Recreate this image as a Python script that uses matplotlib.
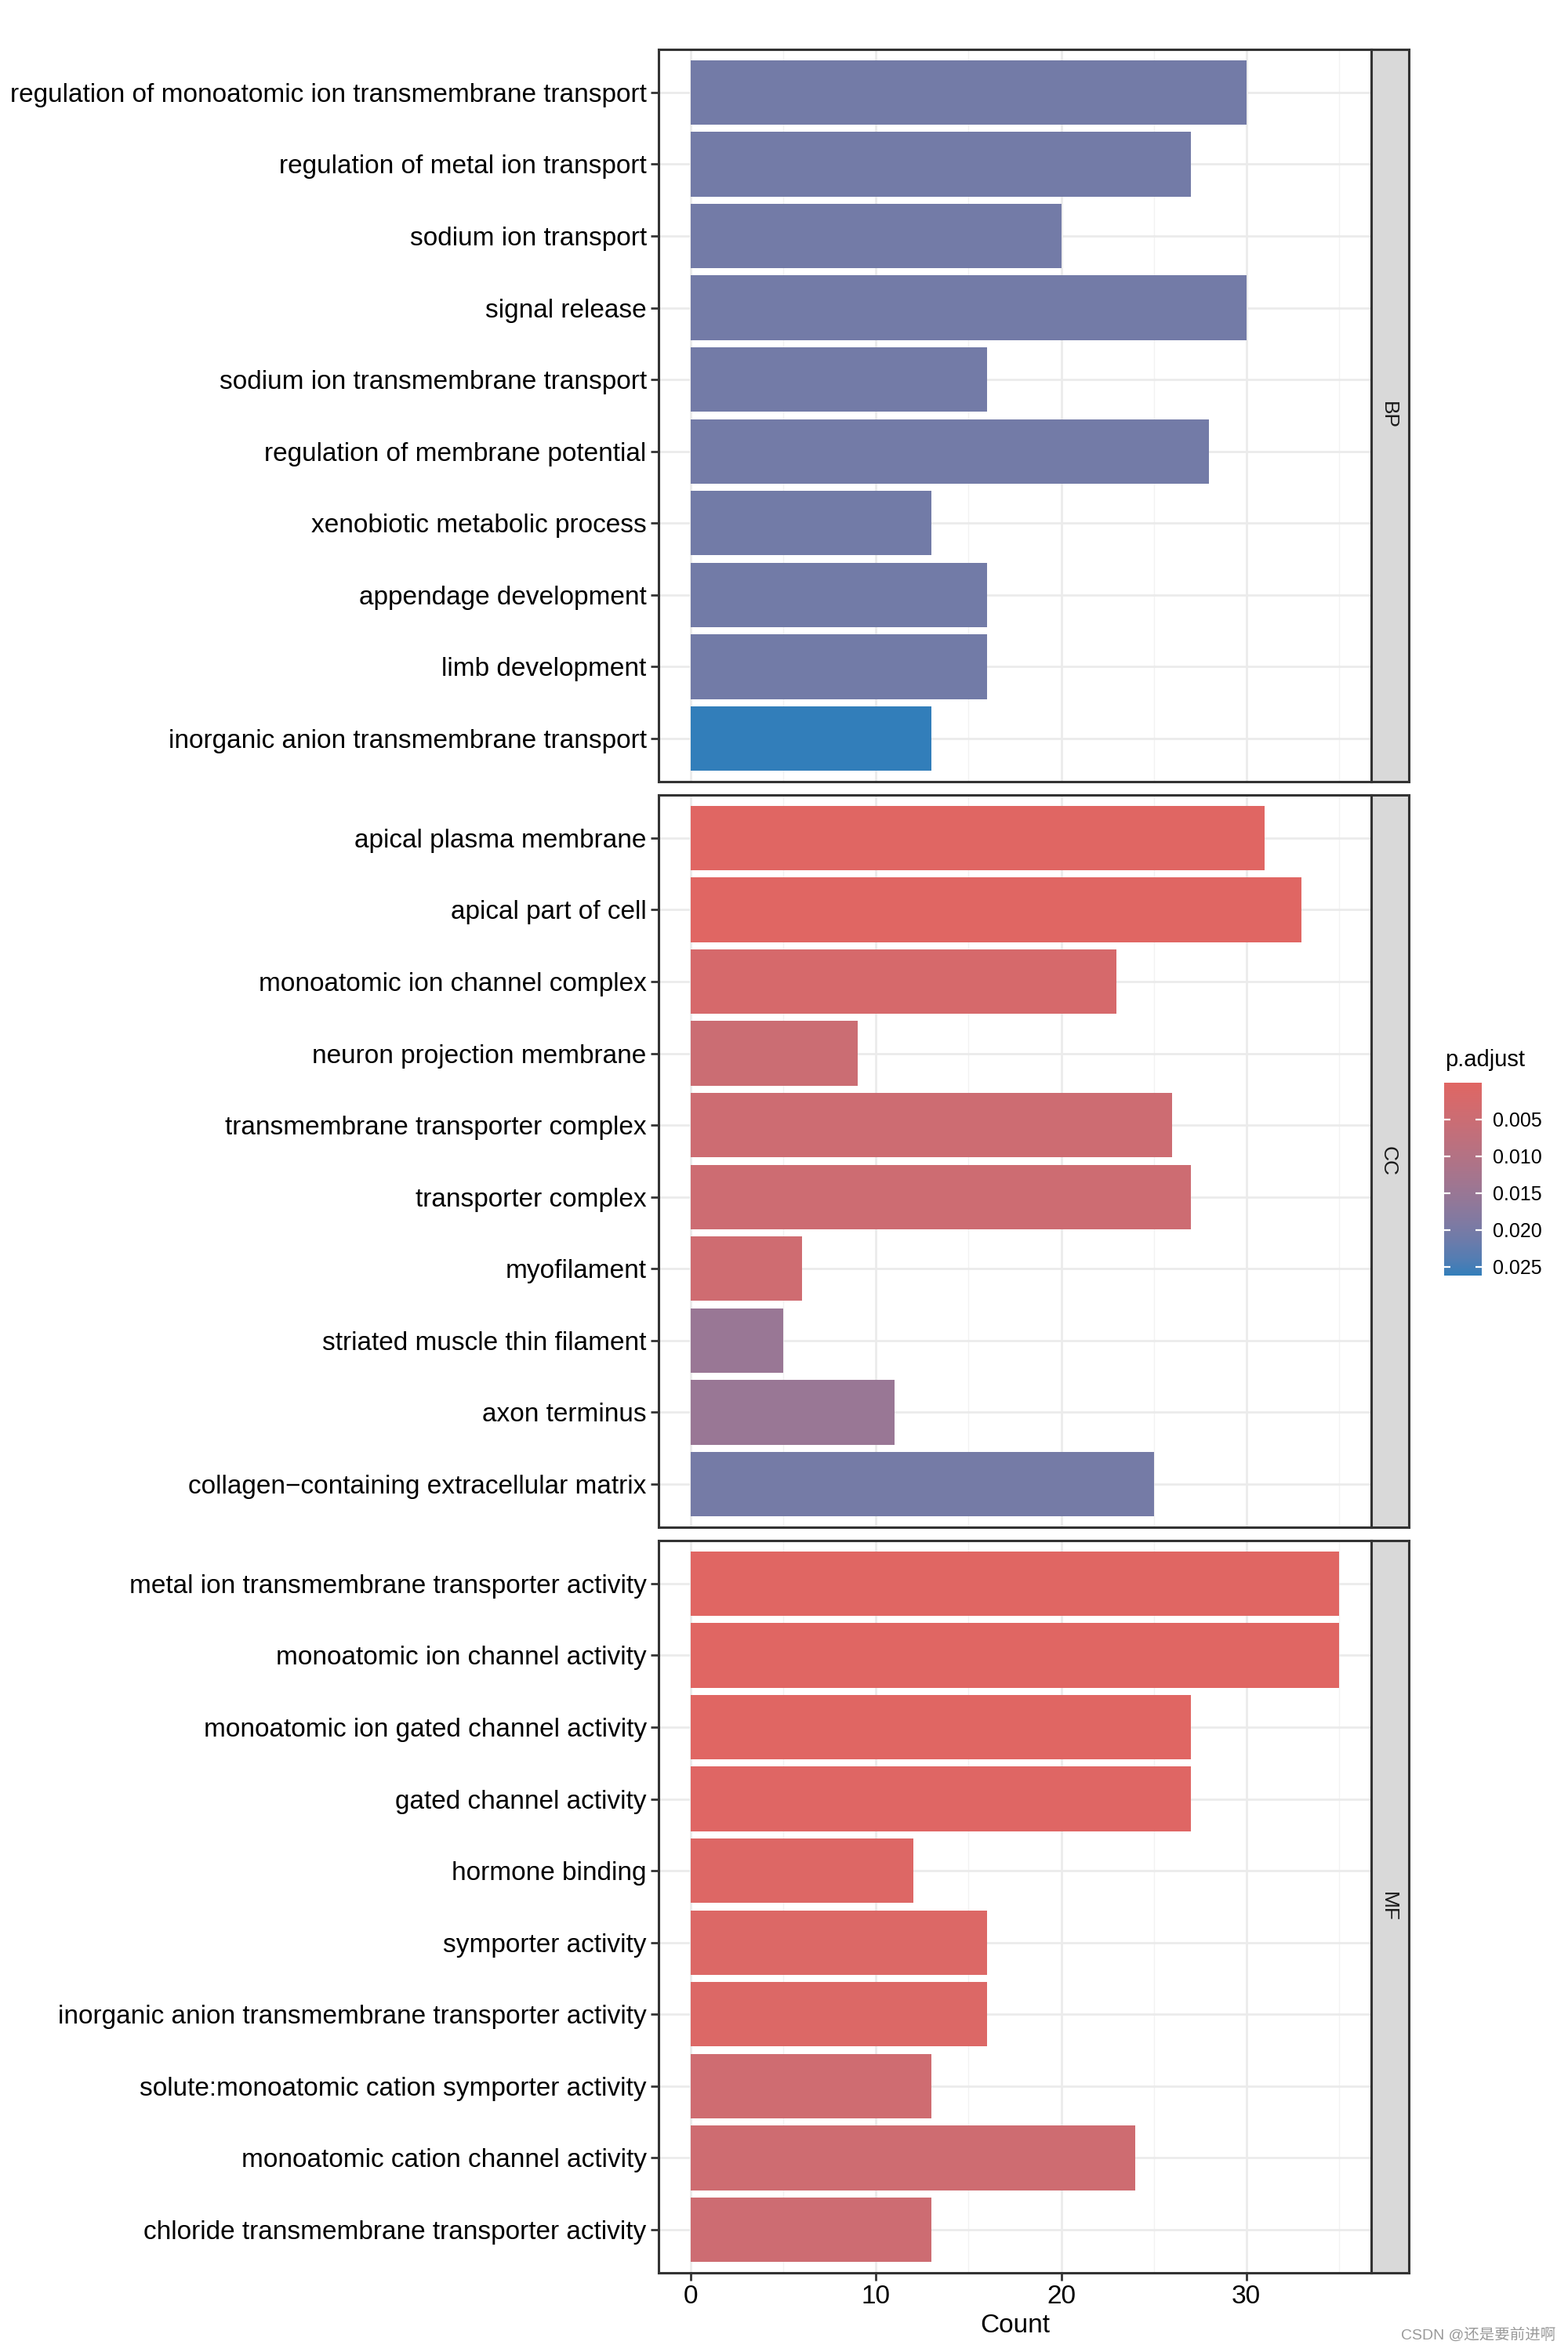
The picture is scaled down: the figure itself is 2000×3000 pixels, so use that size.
import numpy as np
import matplotlib
matplotlib.use('Agg')
import matplotlib.pyplot as plt
from matplotlib.colors import ListedColormap, Normalize
from matplotlib.colorbar import ColorbarBase

plt.rcParams['font.family'] = ['Liberation Sans', 'Noto Sans CJK SC', 'DejaVu Sans']

# ---- data ----
bp_terms = ['regulation of monoatomic ion transmembrane transport',
            'regulation of metal ion transport',
            'sodium ion transport',
            'signal release',
            'sodium ion transmembrane transport',
            'regulation of membrane potential',
            'xenobiotic metabolic process',
            'appendage development',
            'limb development',
            'inorganic anion transmembrane transport']
bp_count = [30, 27, 20, 30, 16, 28, 13, 16, 16, 13]
bp_padj = [0.0205, 0.0205, 0.0205, 0.0205, 0.0205, 0.0205, 0.0206, 0.0206, 0.0206, 0.0262]

cc_terms = ['apical plasma membrane',
            'apical part of cell',
            'monoatomic ion channel complex',
            'neuron projection membrane',
            'transmembrane transporter complex',
            'transporter complex',
            'myofilament',
            'striated muscle thin filament',
            'axon terminus',
            'collagen\u2212containing extracellular matrix']
cc_count = [31, 33, 23, 9, 26, 27, 6, 5, 11, 25]
cc_padj = [0.0001, 0.0002, 0.0025, 0.0050, 0.0045, 0.0046, 0.0042, 0.0150, 0.0150, 0.0203]

mf_terms = ['metal ion transmembrane transporter activity',
            'monoatomic ion channel activity',
            'monoatomic ion gated channel activity',
            'gated channel activity',
            'hormone binding',
            'symporter activity',
            'inorganic anion transmembrane transporter activity',
            'solute:monoatomic cation symporter activity',
            'monoatomic cation channel activity',
            'chloride transmembrane transporter activity']
mf_count = [35, 35, 27, 27, 12, 16, 16, 13, 24, 13]
mf_padj = [0.00002, 0.00003, 0.0002, 0.0003, 0.0008, 0.0011, 0.0011, 0.0042, 0.0043, 0.0045]

facets = ['BP', 'CC', 'MF']
xticks = [0, 10, 20, 30]
cbar_ticks = [0.005, 0.010, 0.015, 0.020, 0.025]
padj_min, padj_max = 0.00002, 0.0262


# ---- colour ramp in CIELAB (like ggplot's gradient) ----
def to_lab(hexcol):
    rgb = np.array([int(hexcol[i:i + 2], 16) for i in (1, 3, 5)]) / 255.0
    rgb = np.where(rgb > 0.04045, ((rgb + 0.055) / 1.055) ** 2.4, rgb / 12.92)
    m = np.array([[0.4124, 0.3576, 0.1805],
                  [0.2126, 0.7152, 0.0722],
                  [0.0193, 0.1192, 0.9505]])
    xyz = m @ rgb / np.array([0.95047, 1.0, 1.08883])
    f = np.where(xyz > 0.008856, np.cbrt(xyz), 7.787 * xyz + 16 / 116)
    return np.array([116 * f[1] - 16, 500 * (f[0] - f[1]), 200 * (f[1] - f[2])])


def from_lab(lab):
    fy = (lab[0] + 16) / 116
    fx = fy + lab[1] / 500
    fz = fy - lab[2] / 200
    f = np.array([fx, fy, fz])
    xyz = np.where(f ** 3 > 0.008856, f ** 3, (f - 16 / 116) / 7.787)
    xyz = xyz * np.array([0.95047, 1.0, 1.08883])
    m = np.array([[3.2406, -1.5372, -0.4986],
                  [-0.9689, 1.8758, 0.0415],
                  [0.0557, -0.2040, 1.0570]])
    rgb = m @ xyz
    rgb = np.where(rgb > 0.0031308, 1.055 * np.abs(rgb) ** (1 / 2.4) - 0.055, 12.92 * rgb)
    return np.clip(rgb, 0, 1)


lo, hi = to_lab('#e06663'), to_lab('#327eba')
cmap = ListedColormap([from_lab(lo + t * (hi - lo)) for t in np.linspace(0, 1, 256)])
norm = Normalize(padj_min, padj_max)

# ---- figure ----
fig = plt.figure(figsize=(10, 15), dpi=200)

left, width = 0.42, 0.4545
strip_w = 0.024
boxes = [(0.6677, 0.3113), (0.3507, 0.3113), (0.0337, 0.3113)]
border = '#333333'

panels = [(bp_terms, bp_count, bp_padj), (cc_terms, cc_count, cc_padj), (mf_terms, mf_count, mf_padj)]

for i, (terms, counts, padj) in enumerate(panels):
    bottom, height = boxes[i]
    ax = fig.add_axes([left, bottom, width, height])
    y = np.arange(len(terms))
    ax.barh(y, counts, height=0.9, color=cmap(norm(np.array(padj))), zorder=2)
    ax.set_ylim(len(terms) - 0.4, -0.6)
    ax.set_xlim(-1.75, 36.75)
    ax.set_yticks(y, terms)
    ax.set_xticks(xticks)
    ax.set_xticks([5, 15, 25, 35], minor=True)
    ax.grid(which='major', color='#EBEBEB', lw=1.0, zorder=0)
    ax.grid(which='minor', axis='x', color='#F2F2F2', lw=0.5, zorder=0)
    ax.set_axisbelow(True)
    for s in ax.spines.values():
        s.set_color(border)
        s.set_linewidth(1.1)
    ax.tick_params(axis='y', labelsize=12, color=border, length=3.5, width=1.0, pad=2)
    ax.tick_params(axis='x', labelsize=12, color=border, length=3.5, width=1.0, pad=2)
    ax.tick_params(which='minor', length=0)
    if i < 2:
        ax.tick_params(axis='x', labelbottom=False, length=0)
    else:
        ax.set_xlabel('Count', fontsize=12, labelpad=2)

    sax = fig.add_axes([left + width, bottom, strip_w, height])
    sax.set_facecolor('#D9D9D9')
    sax.set_xticks([])
    sax.set_yticks([])
    for s in sax.spines.values():
        s.set_color(border)
        s.set_linewidth(1.1)
    sax.text(0.45, 0.5, facets[i], rotation=-90, ha='center', va='center',
             fontsize=9.5, color='#1A1A1A', transform=sax.transAxes)

# ---- colour bar ----
cax = fig.add_axes([0.921, 0.4577, 0.024, 0.082])
cb = ColorbarBase(cax, cmap=cmap, norm=norm, orientation='vertical')
cb.outline.set_visible(False)
cb.set_ticks(cbar_ticks)
cb.set_ticklabels(['%.3f' % v for v in cbar_ticks])
cax.invert_yaxis()
cax.yaxis.set_ticks_position('both')
cax.tick_params(direction='in', color='white', length=3, width=0.8,
                labelsize=9, labelleft=False, labelright=True, pad=5)
fig.text(0.9215, 0.5445, 'p.adjust', fontsize=10.5, ha='left', va='bottom')

# watermark
fig.text(0.992, 0.004, 'CSDN @还是要前进啊', fontsize=7, color='#9A9A9A',
         ha='right', va='bottom')

fig.savefig('out.png', dpi=200)
